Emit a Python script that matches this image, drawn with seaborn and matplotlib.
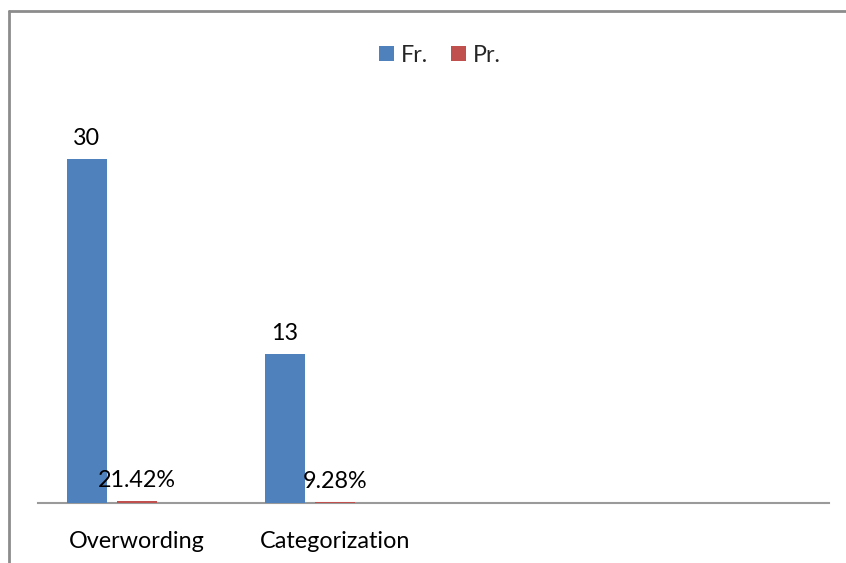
import matplotlib
matplotlib.use("Agg")
import matplotlib.pyplot as plt
from matplotlib.patches import Patch
from matplotlib.lines import Line2D
import pandas as pd
import seaborn as sns

# Error types and their counts / proportions
categories = ["Overwording", "Categorization"]
freq = [30, 13]
prop = [0.2142, 0.0928]
series = ["Fr.", "Pr."]
colors = ["#4F81BD", "#C0504D"]

# Two unused category slots and one unused series slot keep the layout spacing
slot_order = categories + ["", " "]
hue_order = series + ["_empty"]

df = pd.DataFrame({
    "category": categories * 2,
    "series": [series[0]] * len(categories) + [series[1]] * len(categories),
    "value": freq + prop,
})

sns.set_theme(style="white")
plt.rcParams["font.family"] = ["Lato", "DejaVu Sans"]
FS = 16.8

fig = plt.figure(figsize=(8.46, 5.63), dpi=100)
ax = fig.add_axes([38 / 846, 60 / 563, (829 - 38) / 846, (503 - 101.6) / 563])

palette = {series[0]: colors[0], series[1]: colors[1], "_empty": "white"}
sns.barplot(data=df, x="category", y="value", hue="series", order=slot_order,
            hue_order=hue_order, palette=palette, width=0.7585, gap=0.2,
            errorbar=None, saturation=1, linewidth=0, ax=ax, legend=False)

ax.set_xlim(-0.5, len(slot_order) - 0.5)
ax.set_ylim(0, 35)
ax.set_xlabel("")
ax.set_ylabel("")
ax.set_yticks([])
ax.tick_params(axis="x", length=0, labelsize=FS, pad=20, colors="black")
for side in ["top", "right", "left"]:
    ax.spines[side].set_visible(False)
ax.spines["bottom"].set_color("#9a9a9a")
ax.spines["bottom"].set_linewidth(1.5)
ax.spines["bottom"].set_zorder(0.5)

# Value labels above each bar
for container, fmt in zip(ax.containers[:2], [lambda v: f"{v:g}", lambda v: f"{v:.2%}"]):
    for rect in container:
        h = rect.get_height()
        if h != h:
            continue
        ax.annotate(fmt(h), (rect.get_x() + rect.get_width() / 2, h),
                    xytext=(0, 7), textcoords="offset points",
                    ha="center", va="bottom", fontsize=FS, color="black")

handles = [Patch(facecolor=c, edgecolor="none") for c in colors]
fig.legend(handles, series, loc="center", bbox_to_anchor=(440 / 846, 1 - 55 / 563),
           ncol=2, frameon=False, fontsize=FS, handlelength=0.62, handleheight=0.62,
           handletextpad=0.3, columnspacing=1.0)

# Outer chart frame
fig.add_artist(Line2D([9 / 846, 9 / 846], [0, 1 - 11 / 563], transform=fig.transFigure,
                      color="#8c8c8c", linewidth=2))
fig.add_artist(Line2D([9 / 846, 1], [1 - 11 / 563, 1 - 11 / 563], transform=fig.transFigure,
                      color="#8c8c8c", linewidth=2))

fig.savefig("out.png", dpi=100, facecolor="white")
